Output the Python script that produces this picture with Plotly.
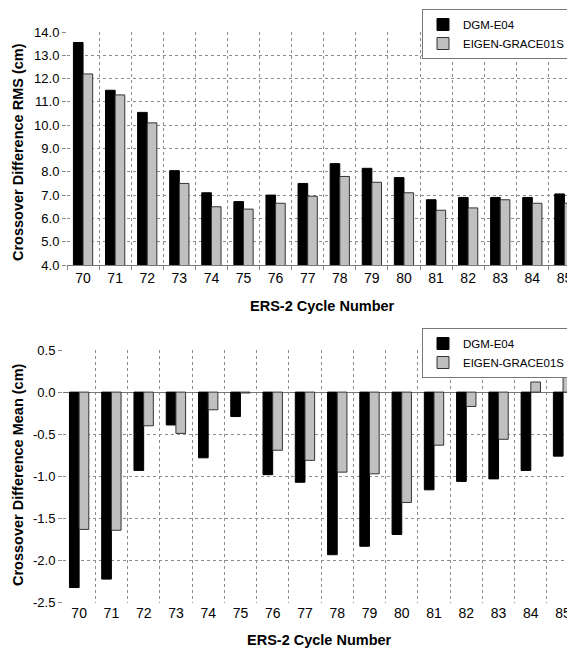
import plotly.graph_objects as go

cycles = ["70", "71", "72", "73", "74", "75", "76", "77", "78", "79", "80", "81", "82", "83", "84", "85"]
rms_dgm = [13.55, 11.5, 10.55, 8.05, 7.1, 6.72, 7.0, 7.5, 8.35, 8.15, 7.75, 6.8, 6.9, 6.9, 6.9, 7.05]
rms_eigen = [12.2, 11.3, 10.1, 7.5, 6.5, 6.4, 6.65, 6.95, 7.8, 7.55, 7.1, 6.35, 6.45, 6.8, 6.65, 6.65]
mean_dgm = [-2.32, -2.22, -0.93, -0.39, -0.78, -0.29, -0.98, -1.07, -1.93, -1.83, -1.69, -1.16, -1.06, -1.03, -0.93, -0.76]
mean_eigen = [-1.63, -1.64, -0.40, -0.49, -0.21, -0.01, -0.69, -0.81, -0.95, -0.97, -1.31, -0.63, -0.17, -0.56, 0.12, 0.18]
rms_ticks = [4, 5, 6, 7, 8, 9, 10, 11, 12, 13, 14]
rms_ticktext = ["4.0", "5.0", "6.0", "7.0", "8.0", "9.0", "10.0", "11.0", "12.0", "13.0", "14.0"]
mean_ticks = [-2.5, -2.0, -1.5, -1.0, -0.5, 0.0, 0.5]
mean_ticktext = ["-2.5", "-2.0", "-1.5", "-1.0", "-0.5", "0.0", "0.5"]
series_names = ["DGM-E04", "EIGEN-GRACE01S"]
x_title = "ERS-2 Cycle Number"
y_titles = ["Crossover Difference RMS (cm)", "Crossover Difference Mean (cm)"]

# page body has an 8px default margin; the figure fills the rest of the 575x649 window
OFF = 8
W, H = 575 - OFF, 649 - OFF
FONT = "Liberation Sans, Arial, sans-serif"
GRID = "#8c8c8c"

black_marker = dict(color="black", line=dict(color="black", width=1))
hatch_marker = dict(color="#e6e6e6", line=dict(color="#333333", width=1),
                    pattern=dict(shape=".", size=2, solidity=0.5, fgcolor="#7c7c7c", bgcolor="#f6f6f6"))

fig = go.Figure()
fig.add_trace(go.Bar(x=cycles, y=rms_dgm, name=series_names[0], marker=black_marker,
                     xaxis="x", yaxis="y", legend="legend"))
fig.add_trace(go.Bar(x=cycles, y=rms_eigen, name=series_names[1], marker=hatch_marker,
                     xaxis="x", yaxis="y", legend="legend"))
fig.add_trace(go.Bar(x=cycles, y=mean_dgm, name=series_names[0], marker=black_marker,
                     xaxis="x2", yaxis="y2", legend="legend2"))
fig.add_trace(go.Bar(x=cycles, y=mean_eigen, name=series_names[1], marker=hatch_marker,
                     xaxis="x2", yaxis="y2", legend="legend2"))

def px_x(p):
    return (p - OFF) / W

def px_y(p):
    return 1 - (p - OFF) / H

common_x = dict(type="category", tickson="boundaries", showgrid=True, gridcolor=GRID,
                griddash="dot", gridwidth=1, tickfont=dict(family=FONT, size=14, color="black"),
                fixedrange=True, automargin=False, zeroline=False)
common_y = dict(showgrid=True, gridcolor=GRID, griddash="dot", gridwidth=1,
                ticks="outside", ticklen=4, tickcolor=GRID, automargin=False,
                tickfont=dict(family=FONT, size=13, color="black"), showline=False,
                fixedrange=True)

legend_common = dict(bgcolor="white", bordercolor="#777777", borderwidth=1,
                     font=dict(family=FONT, size=11.5, color="black"),
                     xanchor="right", yanchor="top", itemwidth=30, traceorder="normal")

fig.update_layout(
    template="none",
    width=W, height=H,
    margin=dict(l=0, r=0, t=0, b=0, pad=0),
    paper_bgcolor="white", plot_bgcolor="white",
    barmode="group", bargap=0.4, bargroupgap=0.0,
    xaxis=dict(common_x, domain=[px_x(67), 1], range=[-0.5, 15.33], anchor="y",
               ticks="outside", ticklen=4, tickcolor=GRID,
               showline=True, linecolor="#777777", linewidth=1),
    yaxis=dict(common_y, domain=[px_y(265), px_y(32)], range=[4, 14], anchor="x",
               tickvals=rms_ticks, ticktext=rms_ticktext, zeroline=False),
    xaxis2=dict(common_x, domain=[px_x(63), 1], range=[-0.5, 15.37], anchor="y2",
                ticks="", showline=False),
    yaxis2=dict(common_y, domain=[px_y(602.7), px_y(350)], range=[-2.5, 0.5], anchor="x2",
                tickvals=mean_ticks, ticktext=mean_ticktext,
                zeroline=True, zerolinecolor="#777777", zerolinewidth=1),
    legend=dict(legend_common, x=px_x(571), y=px_y(9)),
    legend2=dict(legend_common, x=px_x(571), y=px_y(328)),
    showlegend=True,
)

title_font = dict(family=FONT, size=14.5, color="black")
fig.add_annotation(text="<b>%s</b>" % x_title, xref="paper", yref="paper",
                   x=px_x(322), y=px_y(305.7), showarrow=False, font=title_font,
                   xanchor="center", yanchor="middle")
fig.add_annotation(text="<b>%s</b>" % x_title, xref="paper", yref="paper",
                   x=px_x(319), y=px_y(640), showarrow=False, font=title_font,
                   xanchor="center", yanchor="middle")
fig.add_annotation(text="<b>%s</b>" % y_titles[0], xref="paper", yref="paper",
                   x=px_x(18), y=px_y(152), showarrow=False, font=title_font,
                   textangle=-90, xanchor="center", yanchor="middle")
fig.add_annotation(text="<b>%s</b>" % y_titles[1], xref="paper", yref="paper",
                   x=px_x(18), y=px_y(475), showarrow=False, font=title_font,
                   textangle=-90, xanchor="center", yanchor="middle")

fig.write_html("out.html")
